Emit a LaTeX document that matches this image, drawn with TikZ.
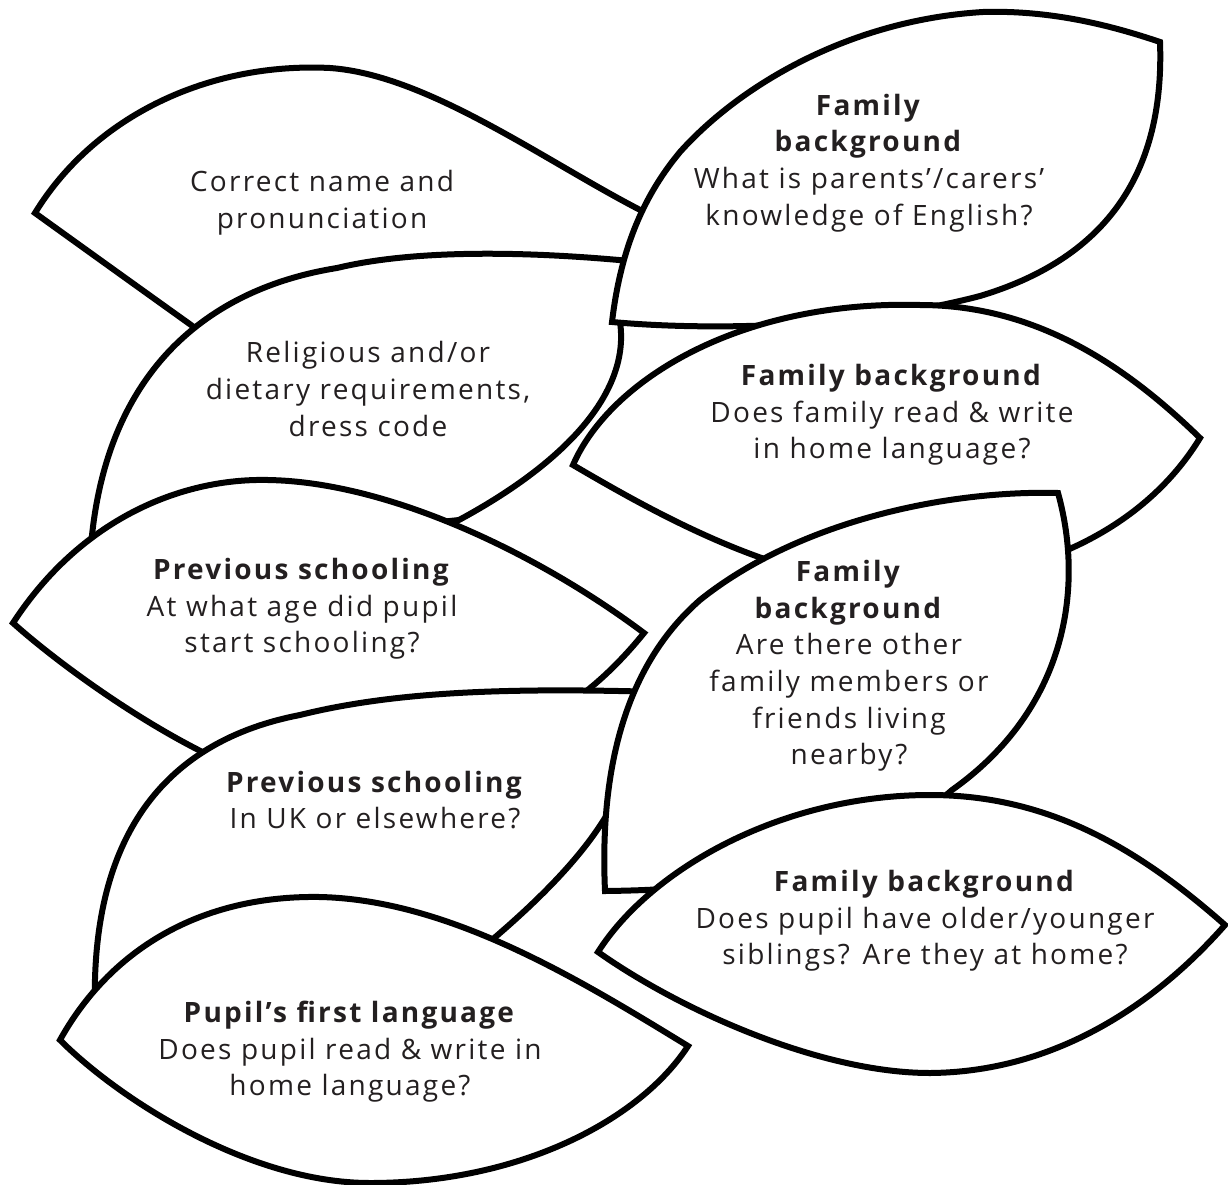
\documentclass[tikz,border=0pt]{standalone}
\usepackage{fontspec}
\setmainfont{Open Sans}[LetterSpace=8]
\definecolor{ink}{HTML}{231F20}
\begin{document}
\begin{tikzpicture}[x=1pt,y=-1pt,
  leaf/.style={draw=black, fill=white, line width=6pt, line join=miter, miter limit=4},
  lbl/.style={align=center, text=ink, font=\fontsize{28}{36.6}\selectfont, inner sep=0pt}]
\useasboundingbox (0,0) rectangle (1228,1185);
\fill[white] (0,0) rectangle (1228,1185);

% A: Correct name
\draw[leaf] (35,213) .. controls (95,115) and (210,62) .. (330,68)
  .. controls (430,75) and (550,165) .. (650,215) -- (690,260)
  .. controls (600,300) and (400,360) .. (240,360)
  .. controls (170,310) and (110,267) .. (35,213) -- cycle;
% B: Religious
\draw[leaf] (640,262) .. controls (540,252) and (420,248) .. (337,268)
  .. controls (200,290) and (100,380) .. (90,560) -- (459,520)
  .. controls (570,460) and (630,390) .. (620,322) -- cycle;
% C: Family background, parents
\draw[leaf] (612,322) .. controls (620,255) and (640,200) .. (680,152)
  .. controls (740,85) and (850,20) .. (983,12)
  .. controls (1050,10) and (1110,25) .. (1160,42)
  .. controls (1165,180) and (1100,260) .. (980,296)
  .. controls (850,330) and (700,330) .. (612,322) -- cycle;
% D: Family background, read & write
\draw[leaf] (573,465) .. controls (610,380) and (740,300) .. (920,305)
  .. controls (1040,305) and (1130,370) .. (1200,438)
  .. controls (1150,520) and (1050,580) .. (900,585)
  .. controls (780,585) and (650,510) .. (573,465) -- cycle;
% E: Previous schooling, age
\draw[leaf] (13,623) .. controls (80,520) and (180,478) .. (268,480)
  .. controls (390,482) and (540,555) .. (644,633)
  .. controls (610,675) and (570,710) .. (520,730) -- (230,765)
  .. controls (150,730) and (60,665) .. (13,623) -- cycle;
% G: Previous schooling, UK
\draw[leaf] (660,692) .. controls (520,688) and (400,690) .. (300,715)
  .. controls (170,740) and (90,830) .. (95,1010) -- (480,950)
  .. controls (540,900) and (590,850) .. (615,800) -- cycle;
% F: Family background, nearby
\draw[leaf] (1058,493) .. controls (950,490) and (800,520) .. (700,600)
  .. controls (620,670) and (600,780) .. (605,891)
  .. controls (700,890) and (850,880) .. (952,790)
  .. controls (1065,710) and (1085,590) .. (1058,493) -- cycle;
% H: Family background, siblings
\draw[leaf] (598,952) .. controls (650,870) and (780,795) .. (930,795)
  .. controls (1050,795) and (1140,850) .. (1225,925)
  .. controls (1150,1010) and (1050,1072) .. (930,1073)
  .. controls (820,1073) and (680,1010) .. (598,952) -- cycle;
% I: Pupil's first language
\draw[leaf] (60,1040) .. controls (110,950) and (200,895) .. (320,897)
  .. controls (450,900) and (580,980) .. (688,1046)
  .. controls (640,1120) and (520,1183) .. (370,1183)
  .. controls (250,1183) and (120,1100) .. (60,1040) -- cycle;

\node[lbl] (tA) at (322,203) {Correct name and\\pronunciation};
\node[lbl] (tB) at (368,389) {Religious and/or\\dietary requirements,\\dress code};
\node[lbl] (tC) at (869,163) {\textbf{Family}\\\textbf{background}\\What is parents’/carers’\\knowledge of English?};
\node[lbl] (tD) at (892,415) {\textbf{Family background}\\Does family read \& write\\in home language?};
\node[lbl] (tE) at (302,609) {\textbf{Previous schooling}\\At what age did pupil\\start schooling?};
\node[lbl] (tF) at (849,666) {\textbf{Family}\\\textbf{background}\\Are there other\\family members or\\friends living\\nearby?};
\node[lbl] (tG) at (375,800) {\textbf{Previous schooling}\\In UK or elsewhere?};
\node[lbl] (tH) at (925,921) {\textbf{Family background}\\Does pupil have older/younger\\siblings? Are they at home?};
\node[lbl] (tI) at (350,1052) {\textbf{Pupil’s first language}\\Does pupil read \& write in\\home language?};
\end{tikzpicture}
\end{document}
